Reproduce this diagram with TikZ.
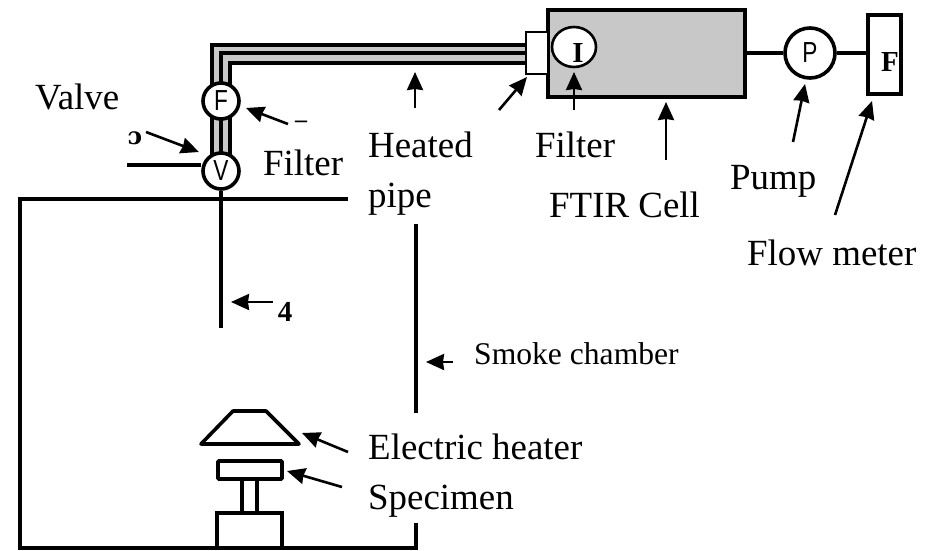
\documentclass[tikz,border=0pt]{standalone}
\usepackage{fontspec}
\setmainfont{Liberation Serif}
\newfontfamily\dejaserif{DejaVu Serif}
\newfontfamily\lsans{Liberation Sans}
\usetikzlibrary{arrows.meta,shapes.geometric}
\definecolor{cellgray}{HTML}{C8C8C8}
\tikzset{
  line/.style={line width=3.6pt,black},
  thinbox/.style={line width=2pt,draw=black,fill=white},
  gauge/.style={circle,draw=black,line width=3.6pt,fill=white,inner sep=0pt,minimum size=#1,font=\lsans\fontsize{29}{29}\selectfont},
  lbl/.style={anchor=base west,inner sep=0pt,font=\fontsize{36.9}{36.9}\selectfont},
  smalllbl/.style={anchor=base west,inner sep=0pt,font=\fontsize{31.6}{31.6}\selectfont},
  monolbl/.style={inner sep=0pt,font=\bfseries\fontsize{29}{29}\selectfont},
  pointer/.style={line width=2.6pt,-{Stealth[length=18pt,width=16pt,inset=1pt]}},
}
\newcommand{\narrowletter}[1]{\scalebox{0.78}[1]{#1}}
\begin{document}
\begin{tikzpicture}[x=1pt,y=-1pt]
\useasboundingbox (0,0) rectangle (926,550);
% heated pipe
\fill[cellgray] (212,171) -- (212,45) -- (526,45) -- (526,63) -- (230,63) -- (230,171) -- cycle;
\draw[line] (212,171) -- (212,45) -- (526,45);
\draw[line] (221,171) -- (221,53) -- (526,53);
\draw[line] (230,171) -- (230,63) -- (526,63);
% FTIR cell
\node[draw=black,line width=4pt,fill=cellgray,minimum width=197pt,minimum height=87pt,inner sep=0pt] (cell) at (646.5,53.5) {};
\node[thinbox,minimum width=22pt,minimum height=42pt,inner sep=0pt] (fbox) at (537,53) {};
\node[ellipse,draw=black,line width=2.6pt,fill=white,minimum width=44pt,minimum height=40pt,inner sep=0pt] (ifilter) at (574,47) {};
\node[monolbl] (ilabel) at (578,53) {I};
% pump and flow meter
\node[gauge=50pt] (pump) at (810,53) {\narrowletter{P}};
\node[draw=black,line width=4.5pt,fill=white,minimum width=33pt,minimum height=79pt,inner sep=0pt] (flow) at (884.5,54.5) {};
\node[monolbl] (flabel) at (890,62) {F};
\draw[line] (cell.east |- pump.west) -- (pump.west);
\draw[line] (pump.east) -- (flow.west |- pump.east);
% valve and filter circles
\coordinate (valvein) at (127,165);
\coordinate (chL) at (20,199);
\coordinate (chT) at (348,199);
\coordinate (probe) at (221,328);
\node[gauge=36pt] (F) at (221,101) {\narrowletter{F}};
\node[gauge=36pt] (V) at (221,171) {\narrowletter{V}};
\draw[line] (valvein) -- (V.west |- valvein);
% chamber
\coordinate (chBL) at (20,548);
\coordinate (chBR) at (416,548);
\coordinate (chR1) at (416,523);
\coordinate (chR2) at (416,413);
\coordinate (chR3) at (416,224);
\draw[line] (chT) -- (chL) -- (chBL) -- (chBR) -- (chR1);
\draw[line] (chR2) -- (chR3);
\draw[line] (V.south) -- (probe);
% heater and specimen
\coordinate (h1) at (233,411);
\coordinate (h2) at (266,411);
\coordinate (h3) at (299,444);
\coordinate (h4) at (201,444);
\draw[line,line join=round] (h1) -- (h2) -- (h3) -- (h4) -- cycle;
\node[draw=black,line width=3.6pt,rounded corners=1pt,minimum width=64pt,minimum height=18pt,inner sep=0pt] (spec) at (250,470) {};
\node[draw=black,line width=3.6pt,minimum width=65pt,minimum height=35pt,inner sep=0pt] (base) at (249.5,530.5) {};
\coordinate (s1) at (242,479);
\coordinate (s2) at (257,479);
\coordinate (s3) at (242,513);
\coordinate (s4) at (257,513);
\draw[line] (s1) -- (s3) (s2) -- (s4);
% labels
\node[lbl] (tvalve) at (35,109) {Valve};
\node[lbl] (tfilter1) at (263,175) {Filter};
\node[lbl] (theated) at (368,157) {Heated};
\node[lbl] (tpipe) at (368,207) {pipe};
\node[lbl] (tfilter2) at (535,157) {Filter};
\node[lbl] (tftir) at (549,217) {FTIR Cell};
\node[lbl] (tpump) at (730,189) {Pump};
\node[lbl] (tflow) at (747,265) {Flow meter};
\node[smalllbl] (tsmoke) at (474,364) {Smoke chamber};
\node[lbl] (theater) at (368,459) {Electric heater};
\node[lbl] (tspec) at (368,509) {Specimen};
\node[monolbl] (t4) at (285,312) {4};
\node[inner sep=0pt,font=\dejaserif\bfseries\fontsize{24}{24}\selectfont] (t5) at (135,138) {ɔ};
\node[inner sep=0pt,font=\bfseries\fontsize{24}{24}\selectfont] (tdash) at (301,124) {–};
% pointers
\coordinate (a1) at (146,132); \coordinate (b1) at (199,152);
\coordinate (a2) at (288,124); \coordinate (b2) at (246,108);
\coordinate (a3) at (273,302); \coordinate (b3) at (231,302);
\coordinate (a4) at (415,108); \coordinate (b4) at (415,72);
\coordinate (a5) at (499,110); \coordinate (b5) at (527,77);
\coordinate (a6) at (574,110); \coordinate (b6) at (574,72);
\coordinate (a7) at (666,160); \coordinate (b7) at (666,102);
\coordinate (a8) at (793,142); \coordinate (b8) at (805,84);
\coordinate (a9) at (835,215); \coordinate (b9) at (872,101);
\coordinate (a10) at (453,362); \coordinate (b10) at (426,362);
\coordinate (a11) at (348,452); \coordinate (b11) at (302,433);
\coordinate (a12) at (342,487); \coordinate (b12) at (287,471);
\foreach \i in {1,...,12} \draw[pointer] (a\i) -- (b\i);
\end{tikzpicture}
\end{document}
